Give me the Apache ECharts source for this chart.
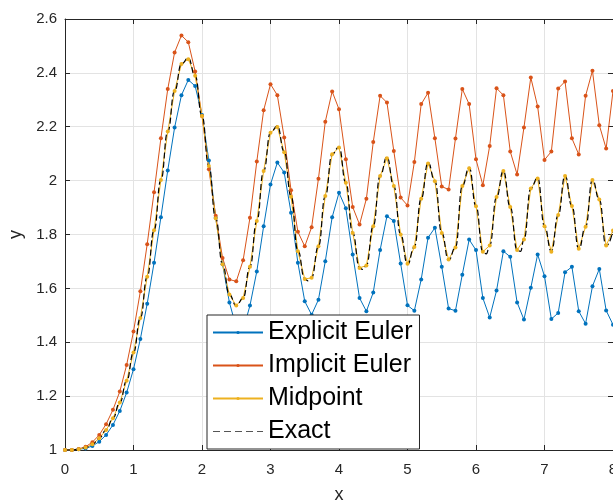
<!DOCTYPE html>
<html>
<head>
<meta charset="utf-8">
<script src="https://cdn.jsdelivr.net/npm/echarts@6/dist/echarts.min.js"></script>
<style>
  html, body { margin: 0; padding: 0; background: #fff; }
  #chart { width: 613px; height: 504px; }
</style>
</head>
<body>
<div id="chart"></div>
<script>
// step h = 0.1 on [0, 8]
var xGrid = [0,0.1,0.2,0.3,0.4,0.5,0.6,0.7,0.8,0.9,
  1,1.1,1.2,1.3,1.4,1.5,1.6,1.7,1.8,1.9,
  2,2.1,2.2,2.3,2.4,2.5,2.6,2.7,2.8,2.9,
  3,3.1,3.2,3.3,3.4,3.5,3.6,3.7,3.8,3.9,
  4,4.1,4.2,4.3,4.4,4.5,4.6,4.7,4.8,4.9,
  5,5.1,5.2,5.3,5.4,5.5,5.6,5.7,5.8,5.9,
  6,6.1,6.2,6.3,6.4,6.5,6.6,6.7,6.8,6.9,
  7,7.1,7.2,7.3,7.4,7.5,7.6,7.7,7.8,7.9,
  8];

var explicitEuler = [1.000,1.000,1.003,1.006,1.015,1.031,1.056,1.093,1.145,1.213,
  1.300,1.412,1.543,1.695,1.864,2.038,2.197,2.317,2.374,2.351,
  2.244,2.075,1.862,1.690,1.548,1.455,1.445,1.536,1.663,1.831,
  1.986,2.067,2.030,1.881,1.695,1.552,1.502,1.558,1.701,1.864,
  1.955,1.897,1.726,1.564,1.515,1.585,1.742,1.868,1.850,1.692,
  1.537,1.517,1.633,1.788,1.825,1.680,1.525,1.517,1.651,1.781,
  1.742,1.564,1.492,1.592,1.738,1.717,1.548,1.484,1.602,1.726,
  1.645,1.486,1.509,1.660,1.680,1.515,1.469,1.608,1.672,1.518,
  1.465];

var implicitEuler = [1.000,1.000,1.004,1.012,1.029,1.056,1.096,1.149,1.217,1.316,
  1.440,1.589,1.764,1.957,2.157,2.340,2.476,2.539,2.514,2.405,
  2.240,2.042,1.870,1.713,1.633,1.626,1.704,1.862,2.071,2.261,
  2.358,2.317,2.160,1.964,1.810,1.756,1.827,2.007,2.219,2.331,
  2.265,2.079,1.902,1.837,1.933,2.143,2.315,2.290,2.110,1.937,
  1.908,2.069,2.284,2.326,2.157,1.978,1.967,2.156,2.340,2.284,
  2.079,1.983,2.129,2.343,2.317,2.108,2.023,2.197,2.383,2.275,
  2.077,2.108,2.342,2.368,2.157,2.097,2.315,2.408,2.206,2.119,
  2.333];

var midpoint = [1.000,1.000,1.003,1.009,1.021,1.044,1.074,1.118,1.176,1.257,
  1.362,1.490,1.643,1.816,2.002,2.182,2.333,2.433,2.451,2.389,
  2.240,2.054,1.860,1.690,1.577,1.536,1.564,1.680,1.850,2.036,
  2.178,2.199,2.105,1.940,1.738,1.635,1.639,1.756,1.943,2.098,
  2.123,1.992,1.806,1.676,1.685,1.831,2.017,2.083,1.980,1.800,
  1.691,1.754,1.933,2.064,1.998,1.806,1.707,1.752,1.980,2.046,
  1.905,1.736,1.759,1.939,2.036,1.902,1.742,1.781,1.971,2.008,
  1.831,1.736,1.872,2.017,1.906,1.747,1.829,2.002,1.930,1.759,
  1.815];

// exact solution (extra points at some troughs)
var exactX = [0,0.1,0.2,0.3,0.4,0.5,0.6,0.7,0.8,0.9,
  1,1.1,1.2,1.3,1.4,1.5,1.6,1.7,1.8,1.9,
  2,2.1,2.2,2.3,2.4,2.5,2.6,2.7,2.8,2.9,
  3,3.1,3.2,3.3,3.4,3.5,3.55,3.6,3.7,3.8,3.9,
  4,4.1,4.2,4.3,4.35,4.4,4.5,4.6,4.7,4.8,4.9,
  5,5.1,5.2,5.3,5.4,5.5,5.6,5.7,5.8,5.9,
  6,6.1,6.15,6.2,6.3,6.4,6.5,6.6,6.65,6.7,6.8,6.9,
  7,7.1,7.2,7.3,7.4,7.5,7.6,7.7,7.8,7.9,8];
var exactY = [1.000,1.000,1.003,1.009,1.021,1.044,1.074,1.118,1.176,1.257,
  1.362,1.490,1.643,1.816,2.002,2.182,2.333,2.433,2.455,2.389,
  2.240,2.054,1.860,1.690,1.577,1.535,1.564,1.680,1.850,2.036,
  2.178,2.203,2.108,1.942,1.740,1.634,1.628,1.640,1.756,1.943,2.098,
  2.125,1.992,1.806,1.676,1.670,1.685,1.831,2.017,2.088,1.980,1.800,
  1.689,1.754,1.933,2.067,1.998,1.806,1.704,1.752,1.980,2.049,
  1.905,1.736,1.728,1.759,1.939,2.036,1.902,1.742,1.737,1.781,1.971,2.011,
  1.831,1.737,1.872,2.019,1.906,1.745,1.829,2.004,1.930,1.757,1.815];

var font = '"Liberation Sans", Arial, Helvetica, sans-serif';
var axisColor = '#262626';

function pairs(xs, ys) {
  return xs.map(function (x, i) { return [x, ys[i]]; });
}

var chart = echarts.init(document.getElementById('chart'));

var boxAxis = {
  axisLine: { show: true, onZero: false, lineStyle: { color: axisColor, width: 1 } },
  axisTick: { show: true, inside: true, length: 5, lineStyle: { color: axisColor } },
  axisLabel: { show: false },
  splitLine: { show: false }
};

var option = {
  animation: false,
  backgroundColor: '#fff',
  grid: { left: 65, right: 0, top: 19, bottom: 54, outerBoundsMode: 'none', containLabel: false },
  xAxis: [
    {
      type: 'value', min: 0, max: 8, interval: 1, position: 'bottom',
      name: 'x', nameLocation: 'middle', nameGap: 36,
      nameTextStyle: { fontSize: 18, color: axisColor, fontFamily: font },
      axisLine: { onZero: false, lineStyle: { color: axisColor, width: 1 } },
      axisTick: { inside: true, length: 5, lineStyle: { color: axisColor } },
      axisLabel: { color: axisColor, fontSize: 15, margin: 12, fontFamily: font, hideOverlap: false },
      splitLine: { show: true, lineStyle: { color: '#e3e3e3', width: 1 } }
    },
    Object.assign({ type: 'value', min: 0, max: 8, interval: 1, position: 'top' }, boxAxis)
  ],
  yAxis: [
    {
      type: 'value', min: 1, max: 2.6, interval: 0.2, position: 'left',
      name: 'y', nameLocation: 'middle', nameGap: 40,
      nameTextStyle: { fontSize: 18, color: axisColor, fontFamily: font },
      axisLine: { show: true, onZero: false, lineStyle: { color: axisColor, width: 1 } },
      axisTick: { show: true, inside: true, length: 5, lineStyle: { color: axisColor } },
      axisLabel: { color: axisColor, fontSize: 15, margin: 8, fontFamily: font },
      splitLine: { show: true, lineStyle: { color: '#e3e3e3', width: 1 } }
    },
    Object.assign({ type: 'value', min: 1, max: 2.6, interval: 0.2, position: 'right' }, boxAxis)
  ],
  legend: {
    orient: 'vertical',
    left: 207, top: 315,
    padding: [5, 7, 5, 5],
    itemGap: 8,
    itemWidth: 50,
    itemHeight: 4,
    backgroundColor: '#fff',
    borderColor: axisColor,
    borderWidth: 1,
    borderRadius: 0,
    textStyle: { fontSize: 25, color: '#000', fontFamily: font },
    data: ['Explicit Euler', 'Implicit Euler', 'Midpoint',
      { name: 'Exact', itemStyle: { opacity: 0 }, lineStyle: { color: '#555', width: 1.2, type: [7, 4] } }]
  },
  series: [
    {
      name: 'Explicit Euler', type: 'line', data: pairs(xGrid, explicitEuler),
      symbol: 'circle', symbolSize: 4, showSymbol: true,
      lineStyle: { color: '#0072BD', width: 1 }, itemStyle: { color: '#0072BD' }
    },
    {
      name: 'Implicit Euler', type: 'line', data: pairs(xGrid, implicitEuler),
      symbol: 'circle', symbolSize: 4, showSymbol: true,
      lineStyle: { color: '#D95319', width: 1 }, itemStyle: { color: '#D95319' }
    },
    {
      name: 'Midpoint', type: 'line', data: pairs(xGrid, midpoint),
      symbol: 'circle', symbolSize: 4, showSymbol: true,
      lineStyle: { color: '#EDB120', width: 1 }, itemStyle: { color: '#EDB120' }
    },
    {
      name: 'Exact', type: 'line', data: pairs(exactX, exactY),
      symbol: 'none', showSymbol: false, smooth: 0.5, smoothMonotone: 'x',
      lineStyle: { color: '#000', width: 1.2, type: [6, 3] }, itemStyle: { color: '#000' }
    }
  ]
};

chart.setOption(option);
</script>
</body>
</html>
